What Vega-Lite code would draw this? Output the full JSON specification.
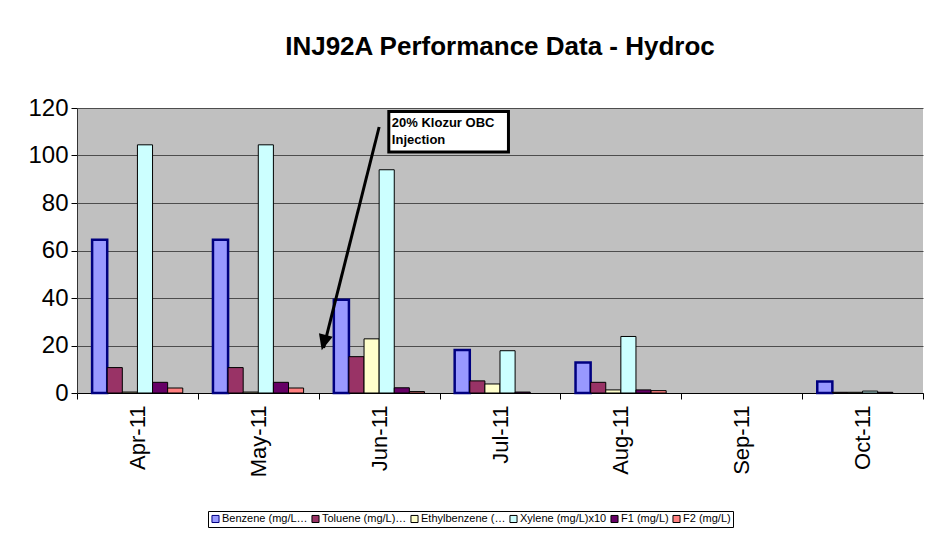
{
  "$schema": "https://vega.github.io/schema/vega-lite/v6.json",
  "width": 846,
  "height": 285,
  "autosize": "none",
  "padding": {"left": 77, "top": 108, "right": 19, "bottom": 149},
  "background": "#ffffff",
  "title": {
    "text": "INJ92A Performance Data - Hydroc",
    "fontSize": 26,
    "fontWeight": "bold",
    "font": "Liberation Sans",
    "color": "#000000",
    "anchor": "middle",
    "offset": 36
  },
  "config": {
    "font": "Liberation Sans",
    "view": {"fill": "#C0C0C0", "stroke": null},
    "axis": {"labelColor": "#000000", "labelFont": "Liberation Sans"}
  },
  "layer": [
    {
      "data": {
        "values": [
          {"month": "Apr-11", "series": "Benzene (mg/L)x10", "value": 64.5},
          {"month": "Apr-11", "series": "Toluene (mg/L)x10", "value": 10.7},
          {"month": "Apr-11", "series": "Ethylbenzene (mg/L)x10", "value": 0.4},
          {"month": "Apr-11", "series": "Xylene (mg/L)x10", "value": 104.5},
          {"month": "Apr-11", "series": "F1 (mg/L)", "value": 4.5},
          {"month": "Apr-11", "series": "F2 (mg/L)", "value": 2.1},
          {"month": "May-11", "series": "Benzene (mg/L)x10", "value": 64.5},
          {"month": "May-11", "series": "Toluene (mg/L)x10", "value": 10.7},
          {"month": "May-11", "series": "Ethylbenzene (mg/L)x10", "value": 0.4},
          {"month": "May-11", "series": "Xylene (mg/L)x10", "value": 104.5},
          {"month": "May-11", "series": "F1 (mg/L)", "value": 4.5},
          {"month": "May-11", "series": "F2 (mg/L)", "value": 2.1},
          {"month": "Jun-11", "series": "Benzene (mg/L)x10", "value": 39.3},
          {"month": "Jun-11", "series": "Toluene (mg/L)x10", "value": 15.3},
          {"month": "Jun-11", "series": "Ethylbenzene (mg/L)x10", "value": 22.8},
          {"month": "Jun-11", "series": "Xylene (mg/L)x10", "value": 94},
          {"month": "Jun-11", "series": "F1 (mg/L)", "value": 2.2},
          {"month": "Jun-11", "series": "F2 (mg/L)", "value": 0.6},
          {"month": "Jul-11", "series": "Benzene (mg/L)x10", "value": 18.1},
          {"month": "Jul-11", "series": "Toluene (mg/L)x10", "value": 5.1},
          {"month": "Jul-11", "series": "Ethylbenzene (mg/L)x10", "value": 3.8},
          {"month": "Jul-11", "series": "Xylene (mg/L)x10", "value": 17.8},
          {"month": "Jul-11", "series": "F1 (mg/L)", "value": 0.4},
          {"month": "Aug-11", "series": "Benzene (mg/L)x10", "value": 12.8},
          {"month": "Aug-11", "series": "Toluene (mg/L)x10", "value": 4.5},
          {"month": "Aug-11", "series": "Ethylbenzene (mg/L)x10", "value": 1.3},
          {"month": "Aug-11", "series": "Xylene (mg/L)x10", "value": 23.8},
          {"month": "Aug-11", "series": "F1 (mg/L)", "value": 1.3},
          {"month": "Aug-11", "series": "F2 (mg/L)", "value": 1.0},
          {"month": "Oct-11", "series": "Benzene (mg/L)x10", "value": 4.8},
          {"month": "Oct-11", "series": "Toluene (mg/L)x10", "value": 0.3},
          {"month": "Oct-11", "series": "Ethylbenzene (mg/L)x10", "value": 0.3},
          {"month": "Oct-11", "series": "Xylene (mg/L)x10", "value": 0.8},
          {"month": "Oct-11", "series": "F1 (mg/L)", "value": 0.3}
        ]
      },
      "mark": {"type": "bar"},
      "encoding": {
        "x": {
          "field": "month",
          "type": "nominal",
          "sort": null,
          "scale": {
            "domain": ["Apr-11", "May-11", "Jun-11", "Jul-11", "Aug-11", "Sep-11", "Oct-11"],
            "paddingInner": 0,
            "paddingOuter": 0
          },
          "axis": {
            "title": null,
            "labelAngle": -90,
            "labelAlign": "right",
            "labelBaseline": "middle",
            "labelFontSize": 22,
            "labelPadding": 6,
            "tickBand": "extent",
            "tickSize": 6,
            "tickColor": "#000000",
            "domainColor": "#000000",
            "domainWidth": 1
          }
        },
        "xOffset": {
          "field": "series",
          "type": "nominal",
          "sort": ["Benzene (mg/L)x10", "Toluene (mg/L)x10", "Ethylbenzene (mg/L)x10", "Xylene (mg/L)x10", "F1 (mg/L)", "F2 (mg/L)"],
          "scale": {"paddingInner": 0, "paddingOuter": 1}
        },
        "y": {
          "field": "value",
          "type": "quantitative",
          "scale": {"domain": [0, 120], "nice": false},
          "axis": {
            "title": null,
            "values": [0, 20, 40, 60, 80, 100, 120],
            "labelFontSize": 24,
            "labelPadding": 3,
            "tickSize": 6,
            "tickColor": "#000000",
            "domainColor": "#333333",
            "grid": true,
            "gridColor": "#4d4d4d",
            "gridWidth": 1
          }
        },
        "fill": {
          "field": "series",
          "type": "nominal",
          "sort": ["Benzene (mg/L)x10", "Toluene (mg/L)x10", "Ethylbenzene (mg/L)x10", "Xylene (mg/L)x10", "F1 (mg/L)", "F2 (mg/L)"],
          "scale": {
            "domain": ["Benzene (mg/L)x10", "Toluene (mg/L)x10", "Ethylbenzene (mg/L)x10", "Xylene (mg/L)x10", "F1 (mg/L)", "F2 (mg/L)"],
            "range": ["#9999FF", "#993366", "#FFFFCC", "#CCFFFF", "#660066", "#FF8080"]
          },
          "legend": {
            "title": null,
            "orient": "none",
            "legendX": 131,
            "legendY": 403,
            "direction": "horizontal",
            "symbolType": "square",
            "symbolSize": 50,
            "symbolStrokeWidth": 1,
            "labelFontSize": 11,
            "labelColor": "#000000",
            "labelLimit": 88,
            "labelOffset": 1,
            "columnPadding": 1,
            "strokeColor": "#000000",
            "padding": 2
          }
        },
        "stroke": {
          "field": "series",
          "type": "nominal",
          "sort": ["Benzene (mg/L)x10", "Toluene (mg/L)x10", "Ethylbenzene (mg/L)x10", "Xylene (mg/L)x10", "F1 (mg/L)", "F2 (mg/L)"],
          "scale": {
            "domain": ["Benzene (mg/L)x10", "Toluene (mg/L)x10", "Ethylbenzene (mg/L)x10", "Xylene (mg/L)x10", "F1 (mg/L)", "F2 (mg/L)"],
            "range": ["#000080", "#000000", "#000000", "#000000", "#000000", "#000000"]
          }
        },
        "strokeWidth": {
          "condition": {"test": "datum.series === 'Benzene (mg/L)x10'", "value": 2.5},
          "value": 1
        }
      }
    },
    {
      "data": {"values": [{"m1": "Jun-11", "m2": "Jun-11", "y1": 112, "y2": 19}]},
      "mark": {"type": "rule", "color": "#000000", "strokeWidth": 3},
      "encoding": {
        "x": {"field": "m1", "type": "nominal", "bandPosition": 0.5, "title": null},
        "x2": {"field": "m2", "bandPosition": 0.04},
        "y": {"field": "y1", "type": "quantitative"},
        "y2": {"field": "y2"}
      }
    },
    {
      "data": {"values": [{"m2": "Jun-11", "y2": 18}]},
      "mark": {"type": "point", "filled": true, "color": "#000000", "opacity": 1, "shape": "M0,0 L-0.45,-1 L0.45,-1 Z", "size": 1000, "angle": 15},
      "encoding": {
        "x": {"field": "m2", "type": "nominal", "bandPosition": 0.025, "title": null},
        "y": {"field": "y2", "type": "quantitative"}
      }
    },
    {
      "data": {"values": [{"a": "Jun-11", "b": "Jul-11", "top": 118.5, "bottom": 101.5}]},
      "mark": {"type": "rect", "fill": "#ffffff", "stroke": "#000000", "strokeWidth": 3},
      "encoding": {
        "x": {"field": "a", "type": "nominal", "bandPosition": 0.58, "title": null},
        "x2": {"field": "b", "bandPosition": 0.57},
        "y": {"field": "top", "type": "quantitative"},
        "y2": {"field": "bottom"}
      }
    },
    {
      "data": {
        "values": [
          {"a": "Jun-11", "line": "20% Klozur OBC", "yv": 113.6},
          {"a": "Jun-11", "line": "Injection", "yv": 106.7}
        ]
      },
      "mark": {"type": "text", "align": "left", "baseline": "middle", "fontSize": 13, "fontWeight": "bold", "color": "#000000", "limit": 112, "ellipsis": ""},
      "encoding": {
        "x": {"field": "a", "type": "nominal", "bandPosition": 0.605, "title": null},
        "y": {"field": "yv", "type": "quantitative"},
        "text": {"field": "line"}
      }
    }
  ]
}
